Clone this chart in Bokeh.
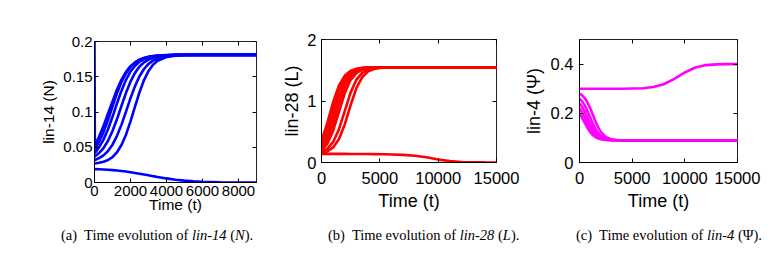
from bokeh.plotting import figure
from bokeh.models import (Range1d, FixedTicker, LinearAxis, CustomJSTickFormatter, Div,
                          CustomLabelingPolicy)
from bokeh.layouts import row, column
from bokeh.embed import file_html
from bokeh.resources import INLINE

# ---------------- data: panel (a) lin-14 (N) ----------------
t_a = [0, 20, 250, 500, 750, 1000, 1250, 1500, 1750, 2000, 2250, 2500, 2750, 3000,
       3250, 3500, 4000, 4500, 5000, 5500, 6000, 7000, 8000, 9000]
n_1 = [0.2, 0.052, 0.065, 0.080, 0.098, 0.115, 0.132, 0.146, 0.157, 0.165, 0.170, 0.174,
       0.176, 0.178, 0.179, 0.1797, 0.1805, 0.181, 0.181, 0.181, 0.181, 0.181, 0.181, 0.181]
n_2 = [0.047, 0.047, 0.0575, 0.0715, 0.0887, 0.1078, 0.1265, 0.1425, 0.1551, 0.1643, 0.1704,
       0.1744, 0.1768, 0.1785, 0.1795, 0.1801, 0.1807, 0.181, 0.181, 0.181, 0.181, 0.181, 0.181, 0.181]
n_3 = [0.042, 0.042, 0.0498, 0.0608, 0.0755, 0.0932, 0.1122, 0.1303, 0.1457, 0.1575, 0.1657,
       0.1714, 0.175, 0.1773, 0.1787, 0.1796, 0.1805, 0.181, 0.181, 0.181, 0.181, 0.181, 0.181, 0.181]
n_4 = [0.037, 0.037, 0.0417, 0.0488, 0.0592, 0.073, 0.090, 0.1089, 0.1272, 0.143, 0.1555,
       0.1644, 0.1705, 0.1744, 0.1768, 0.1785, 0.1801, 0.1807, 0.181, 0.181, 0.181, 0.181, 0.181, 0.181]
n_5 = [0.032, 0.032, 0.0345, 0.0385, 0.0446, 0.0537, 0.0662, 0.0821, 0.1006, 0.1196, 0.1367,
       0.1508, 0.161, 0.1683, 0.1729, 0.1761, 0.1792, 0.1803, 0.1808, 0.181, 0.181, 0.181, 0.181, 0.181]
n_6 = [0.027, 0.027, 0.0279, 0.0294, 0.0319, 0.0361, 0.0429, 0.0532, 0.0678, 0.0866, 0.1077,
       0.128, 0.1453, 0.1582, 0.167, 0.1726, 0.1781, 0.180, 0.1807, 0.1809, 0.181, 0.181, 0.181, 0.181]
n_7 = [0.019, 0.019, 0.0188, 0.0185, 0.0181, 0.0176, 0.017, 0.0163, 0.0155, 0.0146, 0.0136,
       0.0125, 0.0114, 0.0102, 0.009, 0.0079, 0.0058, 0.004, 0.0026, 0.0016, 0.001, 0.0004, 0.0001, 0.0]
series_a = [n_1, n_2, n_3, n_4, n_5, n_6, n_7]
xticks_a = [0, 2000, 4000, 6000, 8000]
yticks_a = [0, 0.05, 0.1, 0.15, 0.2]

# ---------------- data: panel (b) lin-28 (L) ----------------
t_b = [0, 500, 1000, 1500, 2000, 2500, 3000, 3500, 4000, 4500, 5000, 5500, 6000,
       7000, 8000, 9000, 10000, 11000, 12000, 13000, 14000, 15000]
l_1 = [0.35, 0.643, 0.983, 1.254, 1.414, 1.491, 1.525, 1.540, 1.546, 1.549] + [1.55] * 12
l_2 = [0.30, 0.543, 0.869, 1.170, 1.369, 1.470, 1.517, 1.536, 1.544, 1.548] + [1.55] * 12
l_3 = [0.25, 0.445, 0.744, 1.065, 1.306, 1.440, 1.503, 1.531, 1.542, 1.547, 1.549] + [1.55] * 11
l_4 = [0.22, 0.371, 0.628, 0.950, 1.228, 1.399, 1.485, 1.523, 1.539, 1.545, 1.548, 1.549] + [1.55] * 10
l_5 = [0.19, 0.305, 0.518, 0.824, 1.131, 1.344, 1.458, 1.511, 1.534, 1.543, 1.547, 1.549] + [1.55] * 10
l_6 = [0.17, 0.222, 0.334, 0.542, 0.841, 1.140, 1.349, 1.461, 1.512, 1.534, 1.544, 1.547, 1.549] + [1.55] * 9
l_7 = [0.15, 0.179, 0.245, 0.382, 0.623, 0.935, 1.214, 1.391, 1.481, 1.521, 1.538, 1.545, 1.548] + [1.55] * 9
l_8 = [0.14, 0.14, 0.14, 0.14, 0.14, 0.139, 0.139, 0.138, 0.137, 0.136, 0.135, 0.133, 0.131,
       0.124, 0.110, 0.085, 0.05, 0.022, 0.009, 0.004, 0.002, 0.001]
series_b = [l_1, l_2, l_3, l_4, l_5, l_6, l_7, l_8]
xticks_b = [0, 5000, 10000, 15000]
yticks_b = [0, 1, 2]

# ---------------- data: panel (c) lin-4 (Psi) ----------------
t_c = [0, 250, 500, 750, 1000, 1250, 1500, 1750, 2000, 2500, 3000, 3500, 4000,
       5000, 6000, 7000, 8000, 9000, 10000, 11000, 12000, 13000, 14000, 15000]
p_0 = [0.300] * 13 + [0.301, 0.302, 0.307, 0.318, 0.340, 0.366, 0.386, 0.396, 0.399, 0.400, 0.400, 0.400]
p_1 = [0.28, 0.2727, 0.2614, 0.2447, 0.2224, 0.196, 0.1687, 0.1444, 0.1255, 0.1034, 0.0947, 0.0916, 0.0905] + [0.09] * 11
p_2 = [0.26, 0.2484, 0.2317, 0.2097, 0.1844, 0.1591, 0.1372, 0.1204, 0.1089, 0.0967, 0.0923, 0.0908, 0.0902] + [0.09] * 11
p_3 = [0.24, 0.2254, 0.2059, 0.1827, 0.1589, 0.1376, 0.121, 0.1094, 0.1017, 0.0941, 0.0914, 0.0905, 0.0901] + [0.09] * 11
p_4 = [0.22, 0.2026, 0.1814, 0.1589, 0.1383, 0.1218, 0.11, 0.1021, 0.0972, 0.0925, 0.0908, 0.0902, 0.09] + [0.09] * 11
p_5 = [0.20, 0.1818, 0.1613, 0.1414, 0.1247, 0.1122, 0.1036, 0.0982, 0.0948, 0.0917, 0.0906, 0.0901, 0.09] + [0.09] * 11
series_c = [p_0, p_1, p_2, p_3, p_4, p_5]
xticks_c = [0, 5000, 10000, 15000]
yticks_c = [0, 0.2, 0.4]

captions = [
    '(a)&nbsp; Time evolution of <i>lin-14</i> (<i>N</i>).',
    '(b)&nbsp; Time evolution of <i>lin-28</i> (<i>L</i>).',
    '(c)&nbsp; Time evolution of <i>lin-4</i> (&Psi;).',
]

FMT = CustomJSTickFormatter(code="return (Math.round(tick*1000)/1000).toString();")
SANS = "Liberation Sans"


def style_axis(ax, ticks, size, label_size, standoff, label_standoff):
    ax.ticker = FixedTicker(ticks=ticks)
    ax.formatter = FMT
    ax.major_tick_in = 4
    ax.major_tick_out = 0
    ax.minor_tick_line_color = None
    ax.axis_line_color = "black"
    ax.major_tick_line_color = "black"
    ax.major_label_text_font = SANS
    ax.major_label_text_font_size = size
    ax.major_label_text_color = "black"
    ax.major_label_standoff = standoff
    ax.axis_label_text_font = SANS
    ax.axis_label_text_font_size = label_size
    ax.axis_label_text_font_style = "normal"
    ax.axis_label_text_color = "black"
    ax.axis_label_standoff = label_standoff


def tick_only_axis(ticks):
    return LinearAxis(ticker=FixedTicker(ticks=ticks),
                      major_label_policy=CustomLabelingPolicy(code="return new Set()"),
                      major_label_text_font_size="0px",
                      major_tick_in=4, major_tick_out=0, minor_tick_line_color=None,
                      axis_line_color=None, major_label_standoff=0)


def make_panel(w, h, bl, br, bt, bb, xr, yr, t, series, color, xticks, yticks, ylabel,
               tsize, lsize, xstand, xlstand, ystand, ylstand):
    p = figure(width=w, height=h, output_backend="svg", toolbar_location=None,
               x_range=Range1d(*xr), y_range=Range1d(*yr),
               min_border_left=bl, min_border_right=br, min_border_top=bt, min_border_bottom=bb)
    p.xgrid.visible = False
    p.ygrid.visible = False
    p.outline_line_color = "#222222"
    p.outline_line_alpha = 1.0
    p.background_fill_color = "white"
    p.border_fill_color = "white"
    for s in series:
        p.line(t, s, line_color=color, line_width=2.6)
    style_axis(p.xaxis[0], xticks, tsize, lsize, xstand, xlstand)
    style_axis(p.yaxis[0], yticks, tsize, lsize, ystand, ylstand)
    p.xaxis.axis_label = "Time (t)"
    p.yaxis.axis_label = ylabel
    p.add_layout(tick_only_axis(xticks), "above")
    p.add_layout(tick_only_axis(yticks), "right")
    return p


fa = make_panel(262, 224, 94, 6, 41, 42, (0, 9000), (0, 0.2), t_a, series_a, "#0000FF",
                xticks_a, yticks_a, "lin-14 (N)", "15px", "15.5px", 3, -3, 2, 3)
fb = make_panel(258, 224, 59, 24, 39, 62, (0, 15000), (0, 2), t_b, series_b, "#FF0000",
                xticks_b, yticks_b, "lin-28 (L)", "16.5px", "18px", 9, 4, 5, 2)
fc = make_panel(252, 224, 57, 35, 39, 62, (0, 15000), (0, 0.5), t_c, series_c, "#FF00FF",
                xticks_c, yticks_c, "lin-4 (\u03a8)", "16.5px", "18px", 9, 4, 6, 4)

pads = [61, 66, 56]
widths = [262, 258, 252]
divs = []
for cap, pad, w in zip(captions, pads, widths):
    divs.append(Div(text=cap, width=w, height=24, margin=0,
                    styles={"font-family": "'Liberation Serif'", "font-size": "14.5px",
                            "padding-left": f"{pad}px", "padding-top": "1px",
                            "white-space": "nowrap", "color": "black"}))

layout = row(column(fa, divs[0]), column(fb, divs[1]), column(fc, divs[2]))

open("out.html", "w").write(file_html(layout, INLINE))
